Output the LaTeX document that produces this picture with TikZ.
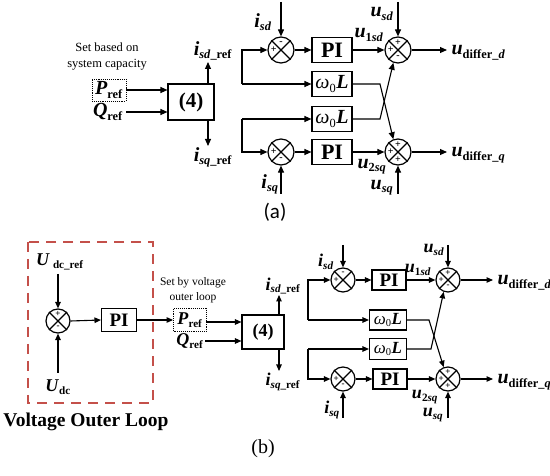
\documentclass[tikz,border=0pt]{standalone}
\usepackage{fontspec}
\setmainfont{Liberation Serif}
\newfontfamily\capfont{Carlito}
\usetikzlibrary{arrows.meta}
\renewcommand{\defaultscriptratio}{.62}
\definecolor{dashred}{RGB}{196,80,74}
\newcommand{\vb}[1]{\textbf{\textit{#1}}}
\newcommand{\fs}[1]{\fontsize{#1}{#1}\selectfont}
\newcommand{\sumj}[7]{%
  \node[sumc, minimum size={2*#3pt}] (#1) at (#2) {};
  \draw (#1.north west) -- (#1.south east) (#1.north east) -- (#1.south west);
  \node[sgn, font=\fs{#7}\bfseries] at ([yshift={0.56*#3pt}]#1.center) {#4};
  \node[sgn, font=\fs{#7}\bfseries] at ([xshift={-0.56*#3pt}]#1.center) {#5};
  \node[sgn, font=\fs{#7}\bfseries] at ([yshift={-0.56*#3pt}]#1.center) {#6};
}
\begin{document}
\begin{tikzpicture}[x=1pt,y=-1pt,line width=1.1pt,
  arr/.style={-{Triangle[length=7pt,width=6pt]}},
  arrb/.style={-{Triangle[length=6.5pt,width=5.5pt]}},
  blk/.style={draw, inner sep=0pt},
  sumc/.style={circle, draw, inner sep=0pt, line width=1.2pt},
  sgn/.style={inner sep=0pt},
  lblA/.style={font=\fs{20}, inner sep=0pt},
  lblB/.style={font=\fs{18}, inner sep=0pt},
  note/.style={font=\fontsize{12.5}{16}\selectfont, align=center, inner sep=0pt},
  noteb/.style={font=\fontsize{11.5}{15}\selectfont, align=center, inner sep=0pt},
  refbox/.style={draw, densely dotted, line width=0.9pt, inner sep=1.5pt},
]
\useasboundingbox (0,0) rectangle (550,476);

% ================= (a) =================
\node[note] (noteA) at (107,57) {Set based on\\system capacity};
\node[lblA, refbox, minimum width=34pt, minimum height=22pt] (PA) at (109,90) {\vb{P}\textsubscript{\textbf{ref}}};
\node[lblA] (QA) at (108,112) {\vb{Q}\textsubscript{\textbf{ref}}};
\node[blk, minimum width=46pt, minimum height=36pt, font=\fs{21}\bfseries] (FA) at (191,102) {(4)};
\draw[arr] (PA.east) -- (PA.east -| FA.west);
\coordinate (QAs) at (126,112);
\draw[arr] (QAs) -- (QAs -| FA.west);
\coordinate (isdrefA) at (208,62);
\draw[arr] (FA.north -| isdrefA) -- (isdrefA);
\node[lblA] (isdrefAl) at (213,51) {\vb{i}\textsubscript{\vb{sd}\textbf{\_ref}}};
\coordinate (isqrefA) at (208,146);
\draw[arr] (FA.south -| isqrefA) -- (isqrefA);
\node[lblA] (isqrefAl) at (213,157) {\vb{i}\textsubscript{\vb{sq}\textbf{\_ref}}};

\sumj{AD1}{281,50}{13}{-}{+}{}{10}
\sumj{AD2}{398,50}{13}{+}{+}{-}{10}
\sumj{AQ1}{281,152}{13}{}{+}{-}{10}
\sumj{AQ2}{398,152}{13}{+}{+}{+}{10}
\node[blk, minimum width=40pt, minimum height=25pt, font=\fs{22}\bfseries] (PIA1) at (332,50) {PI};
\node[blk, minimum width=40pt, minimum height=25pt, font=\fs{22}\bfseries] (PIA2) at (332,152) {PI};
\node[blk, minimum width=40pt, minimum height=25pt, font=\fs{20}] (WA1) at (332,84) {\textit{ω}\textsubscript{0}\vb{L}};
\node[blk, minimum width=40pt, minimum height=25pt, font=\fs{20}] (WA2) at (332,119) {\textit{ω}\textsubscript{0}\vb{L}};

\coordinate (LA1) at (242,50);
\coordinate (LA2) at (242,119);
\draw[arr] (LA1 |- WA1) -- (WA1.west);
\draw[arr] (LA1 |- WA1) -- (LA1) -- (AD1.west);
\draw[arr] (LA2) -- (WA2.west);
\draw[arr] (LA2) -- (LA2 |- AQ1) -- (AQ1.west);
\draw[arr] (AD1.east) -- (PIA1.west);
\draw[arr] (PIA1.east) -- (AD2.west);
\draw[arr] (AQ1.east) -- (PIA2.west);
\draw[arr] (PIA2.east) -- (AQ2.west);

\coordinate (isdA) at (281,2);
\draw[arr] (isdA) -- (AD1.north);
\node[lblA] (isdAl) at (263,22) {\vb{i}\textsubscript{\vb{sd}}};
\coordinate (usdA) at (398,2);
\draw[arr] (usdA) -- (AD2.north);
\node[lblA] (usdAl) at (382,14) {\vb{u}\textsubscript{\vb{sd}}};
\node[lblA] (u1A) at (369,35) {\vb{u}\textsubscript{\textbf{1}\vb{sd}}};
\coordinate (oA1) at (447,50);
\draw[arr] (AD2.east) -- (oA1);
\node[lblA, anchor=base west] (udA) at (451,55) {\vb{u}\textsubscript{\textbf{differ\_}\vb{d}}};

\coordinate (isqA) at (281,194);
\draw[arr] (isqA) -- (AQ1.south);
\node[lblA] (isqAl) at (270,184) {\vb{i}\textsubscript{\vb{sq}}};
\coordinate (usqA) at (398,194);
\draw[arr] (usqA) -- (AQ2.south);
\node[lblA] (usqAl) at (382,188) {\vb{u}\textsubscript{\vb{sq}}};
\node[lblA] (u2A) at (372,167) {\vb{u}\textsubscript{\textbf{2}\vb{sq}}};
\coordinate (oA2) at (447,152);
\draw[arr] (AQ2.east) -- (oA2);
\node[lblA, anchor=base west] (uqA) at (451,157) {\vb{u}\textsubscript{\textbf{differ\_}\vb{q}}};

\coordinate (xA1) at (380,84);
\coordinate (xA2) at (380,119);
\draw[arr] (WA1.east) -- (xA1) -- (AQ2.110);
\draw[arr] (WA2.east) -- (xA2) -- (AD2.250);

\node[font=\fs{21}\capfont, inner sep=0pt] (capA) at (275,212) {(a)};

% ================= (b) =================
\draw[dashred, line width=1.6pt, dash pattern=on 10pt off 7pt] (28,242) rectangle (153,403);
\node[lblB] (Udcref) at (60,262) {\vb{U}\,\textsubscript{\textbf{dc\_ref}}};
\sumj{VC}{58,321}{12}{+}{}{-}{9}
\coordinate (vin1) at (58,274);
\draw[arrb] (vin1) -- (VC.north);
\coordinate (vin2) at (58,373);
\draw[arrb] (vin2) -- (VC.south);
\node[lblB] (Udc) at (58,387) {\vb{U}\textsubscript{\textbf{dc}}};
\node[blk, minimum width=35pt, minimum height=23pt, font=\fs{19}\bfseries] (PIV) at (119,320) {PI};
\draw[arrb] (VC.east) -- (PIV.west);
\node[noteb] (noteB) at (193,290) {Set by voltage\\outer loop};
\node[lblB, refbox, minimum width=33pt, minimum height=23pt] (PB) at (190,320) {\vb{P}\textsubscript{\textbf{ref}}};
\draw[arrb] (PIV.east) -- (PB.west);
\node[lblB] (QB) at (190,341) {\vb{Q}\textsubscript{\textbf{ref}}};
\node[blk, minimum width=42pt, minimum height=34pt, font=\fs{18}\bfseries] (FB) at (263,332) {(4)};
\coordinate (PBs) at (206,322);
\draw[arrb] (PBs) -- (PBs -| FB.west);
\coordinate (QBs) at (205,341);
\draw[arrb] (QBs) -- (QBs -| FB.west);
\coordinate (isdrefB) at (279,295);
\draw[arrb] (FB.north -| isdrefB) -- (isdrefB);
\node[lblB] (isdrefBl) at (283,286) {\vb{i}\textsubscript{\vb{sd}\textbf{\_ref}}};
\coordinate (isqrefB) at (279,371);
\draw[arrb] (FB.south -| isqrefB) -- (isqrefB);
\node[lblB] (isqrefBl) at (283,382) {\vb{i}\textsubscript{\vb{sq}\textbf{\_ref}}};

\sumj{BD1}{343,280}{12}{-}{+}{}{9}
\sumj{BD2}{448,280}{12}{+}{+}{-}{9}
\sumj{BQ1}{343,379}{12}{}{+}{-}{9}
\sumj{BQ2}{448,379}{12}{+}{+}{+}{9}
\node[blk, minimum width=34pt, minimum height=20pt, font=\fs{19}\bfseries] (PIB1) at (389,280) {PI};
\node[blk, minimum width=34pt, minimum height=20pt, font=\fs{19}\bfseries] (PIB2) at (390,379) {PI};
\node[blk, minimum width=37pt, minimum height=20pt, font=\fs{17}] (WB1) at (388,320) {\textit{ω}\textsubscript{0}\vb{L}};
\node[blk, minimum width=37pt, minimum height=21pt, font=\fs{17}] (WB2) at (388,349) {\textit{ω}\textsubscript{0}\vb{L}};

\coordinate (LB1) at (308,280);
\coordinate (LB2) at (308,349);
\draw[arrb] (LB1 |- WB1) -- (WB1.west);
\draw[arrb] (LB1 |- WB1) -- (LB1) -- (BD1.west);
\draw[arrb] (LB2) -- (WB2.west);
\draw[arrb] (LB2) -- (LB2 |- BQ1) -- (BQ1.west);
\draw[arrb] (BD1.east) -- (PIB1.west);
\draw[arrb] (PIB1.east) -- (BD2.west);
\draw[arrb] (BQ1.east) -- (PIB2.west);
\draw[arrb] (PIB2.east) -- (BQ2.west);

\coordinate (isdB) at (343,245);
\draw[arrb] (isdB) -- (BD1.north);
\node[lblB] (isdBl) at (326,262) {\vb{i}\textsubscript{\vb{sd}}};
\coordinate (usdB) at (448,245);
\draw[arrb] (usdB) -- (BD2.north);
\node[lblB] (usdBl) at (434,250) {\vb{u}\textsubscript{\vb{sd}}};
\node[lblB] (u1B) at (418,270) {\vb{u}\textsubscript{\textbf{1}\vb{sd}}};
\coordinate (oB1) at (493,280);
\draw[arrb] (BD2.east) -- (oB1);
\node[lblA, anchor=base west] (udB) at (497,285) {\vb{u}\textsubscript{\textbf{differ\_}\vb{d}}};

\coordinate (isqB) at (343,418);
\draw[arrb] (isqB) -- (BQ1.south);
\node[lblB] (isqBl) at (332,410) {\vb{i}\textsubscript{\vb{sq}}};
\coordinate (usqB) at (448,418);
\draw[arrb] (usqB) -- (BQ2.south);
\node[lblB] (usqBl) at (433,415) {\vb{u}\textsubscript{\vb{sq}}};
\node[lblB] (u2B) at (425,397) {\vb{u}\textsubscript{\textbf{2}\vb{sq}}};
\coordinate (oB2) at (493,379);
\draw[arrb] (BQ2.east) -- (oB2);
\node[lblA, anchor=base west] (uqB) at (497,384) {\vb{u}\textsubscript{\textbf{differ\_}\vb{q}}};

\coordinate (xB1) at (429,320);
\coordinate (xB2) at (431,349);
\draw[arrb] (WB1.east) -- (xB1) -- (BQ2.110);
\draw[arrb] (WB2.east) -- (xB2) -- (BD2.250);

\node[font=\fs{19.5}\bfseries, inner sep=0pt] (vol) at (86,422) {Voltage Outer Loop};
\node[font=\fs{20}, inner sep=0pt] (capB) at (263,449) {(b)};
\end{tikzpicture}
\end{document}
